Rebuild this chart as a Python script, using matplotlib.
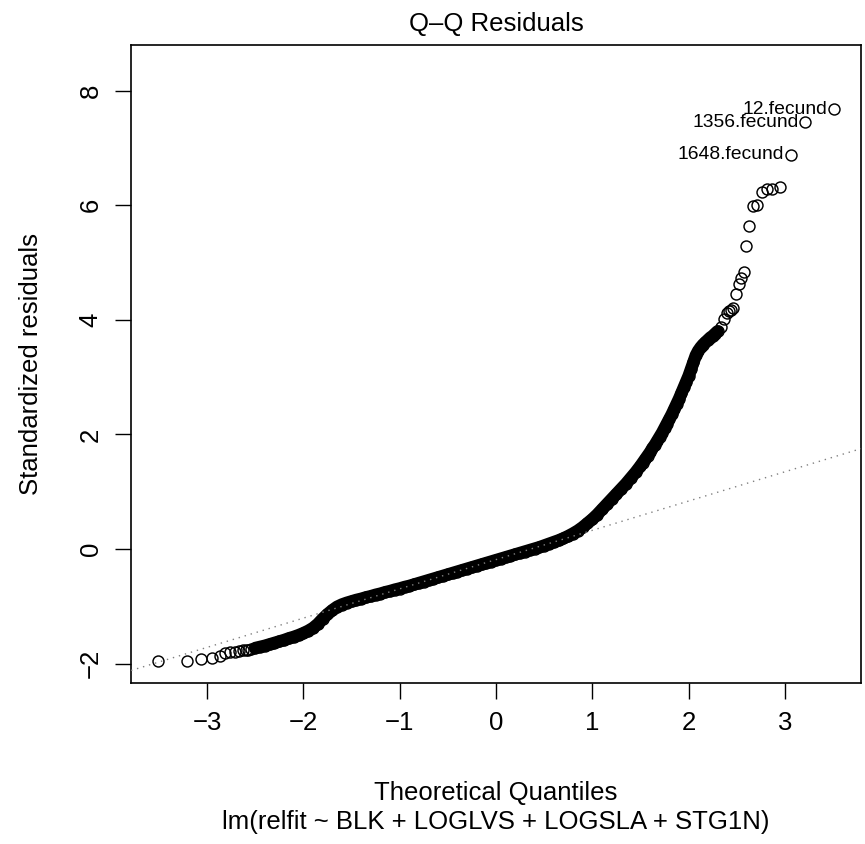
import matplotlib
matplotlib.use("Agg")
import matplotlib.pyplot as plt

plt.rcParams['font.family'] = ['Liberation Sans', 'DejaVu Sans']

# theoretical quantiles / standardized residuals
# lower tail (single circles)
lower_x = [-3.51, -3.21, -3.06, -2.95, -2.87, -2.81, -2.76, -2.71, -2.67, -2.63, -2.60, -2.57, -2.54]
lower_y = [-1.96, -1.95, -1.92, -1.90, -1.86, -1.82, -1.80, -1.79, -1.78, -1.77, -1.77, -1.76, -1.75]

# the dense band in the middle
band_x = [-2.50, -2.45, -2.40, -2.35, -2.30, -2.25, -2.20, -2.15, -2.10, -2.05,
          -2.00, -1.95, -1.90, -1.85, -1.80, -1.75, -1.70, -1.65, -1.60, -1.55,
          -1.50, -1.45, -1.40, -1.35, -1.30, -1.25, -1.20, -1.15, -1.10, -1.05,
          -1.00, -0.95, -0.90, -0.85, -0.80, -0.75, -0.70, -0.65, -0.60, -0.55,
          -0.50, -0.45, -0.40, -0.35, -0.30, -0.25, -0.20, -0.15, -0.10, -0.05,
          0.00, 0.05, 0.10, 0.15, 0.20, 0.25, 0.30, 0.35, 0.40, 0.45,
          0.50, 0.55, 0.60, 0.65, 0.70, 0.75, 0.80, 0.85, 0.90, 0.95,
          1.00, 1.05, 1.10, 1.15, 1.20, 1.25, 1.30, 1.35, 1.40, 1.45,
          1.50, 1.525, 1.55, 1.575, 1.60, 1.625, 1.65, 1.675, 1.70, 1.725,
          1.75, 1.775, 1.80, 1.825, 1.85, 1.875, 1.90, 1.925, 1.95, 1.975,
          2.00, 2.025, 2.05, 2.075, 2.10, 2.125, 2.15, 2.175, 2.20, 2.225,
          2.25, 2.275, 2.30]
band_y = [-1.73, -1.71, -1.69, -1.665, -1.64, -1.615, -1.59, -1.56, -1.535, -1.505,
          -1.47, -1.43, -1.38, -1.31, -1.22, -1.14, -1.07, -1.01, -0.97, -0.94,
          -0.915, -0.89, -0.87, -0.845, -0.825, -0.80, -0.78, -0.755, -0.735, -0.71,
          -0.69, -0.665, -0.645, -0.62, -0.595, -0.57, -0.545, -0.52, -0.495, -0.47,
          -0.445, -0.42, -0.395, -0.37, -0.345, -0.32, -0.295, -0.27, -0.245, -0.22,
          -0.195, -0.17, -0.145, -0.12, -0.095, -0.07, -0.045, -0.02, 0.005, 0.03,
          0.06, 0.09, 0.12, 0.15, 0.185, 0.225, 0.27, 0.32, 0.38, 0.45,
          0.52, 0.60, 0.69, 0.78, 0.87, 0.96, 1.05, 1.14, 1.24, 1.34,
          1.45, 1.51, 1.57, 1.63, 1.69, 1.76, 1.82, 1.89, 1.96, 2.03,
          2.11, 2.19, 2.27, 2.35, 2.44, 2.53, 2.62, 2.72, 2.82, 2.92,
          3.02, 3.14, 3.26, 3.38, 3.46, 3.52, 3.57, 3.61, 3.65, 3.69,
          3.72, 3.76, 3.80]

# upper tail (single circles)
upper_x = [2.34, 2.37, 2.40, 2.42, 2.44, 2.46, 2.49, 2.52, 2.54, 2.57, 2.60,
           2.63, 2.67, 2.71, 2.76, 2.81, 2.87, 2.95, 3.06, 3.21, 3.51]
upper_y = [3.88, 4.02, 4.12, 4.15, 4.17, 4.20, 4.46, 4.62, 4.73, 4.84, 5.29,
           5.64, 5.99, 6.01, 6.23, 6.28, 6.29, 6.32, 6.88, 7.45, 7.68]

# labelled points
id_labels = ['12.fecund', '1356.fecund', '1648.fecund']
id_x = [3.51, 3.21, 3.06]
id_y = [7.68, 7.45, 6.88]

# reference line (intercept, slope)
qq_intercept = -0.185
qq_slope = 0.511

xticks = [-3, -2, -1, 0, 1, 2, 3]
yticks = [-2, 0, 2, 4, 6, 8]

W, H = 865, 844
fig = plt.figure(figsize=(W / 100, H / 100), dpi=100)
ax = fig.add_axes([131 / W, (H - 683) / H, 730 / W, 638 / H])

fs = 18.5
pt_style = dict(linestyle='none', marker='o', mfc='none', mec='black', ms=7.9, mew=1.05)

# solid band where circles overlap completely
ax.plot(band_x, band_y, '-', color='black', lw=9.0,
        solid_capstyle='round', solid_joinstyle='round', zorder=2)
ax.plot(band_x, band_y, zorder=3, **pt_style)
ax.plot(lower_x, lower_y, zorder=3, **pt_style)
ax.plot(upper_x, upper_y, zorder=3, **pt_style)

ax.axline((0, qq_intercept), slope=qq_slope, color='gray', lw=1.0,
          linestyle=(0, (1, 3.5)), zorder=4)

for lbl, x, y in zip(id_labels, id_x, id_y):
    ax.annotate(lbl, (x, y), xytext=(-4.8, 0), textcoords='offset points',
                ha='right', va='center', fontsize=fs * 0.75)

ax.set_xlim(-3.79, 3.79)
ax.set_ylim(-2.34, 8.80)
ax.set_xticks(xticks)
ax.set_xticklabels([f'{v:d}'.replace('-', '\u2212') for v in xticks], fontsize=fs)
ax.set_yticks(yticks)
ax.set_yticklabels([f'{v:d}'.replace('-', '\u2212') for v in yticks], fontsize=fs,
                   rotation=90, va='center')
ax.tick_params(direction='out', length=11.5, width=1.0, pad=9, colors='black')
for s in ax.spines.values():
    s.set_linewidth(1.2)

fig.text(496 / W, 1 - 24 / H, 'Q\u2013Q Residuals', ha='center', va='center', fontsize=fs)
fig.text(496 / W, 1 - 793 / H, 'Theoretical Quantiles', ha='center', va='center', fontsize=fs)
fig.text(496 / W, 1 - 822 / H, 'lm(relfit ~ BLK + LOGLVS + LOGSLA + STG1N)',
         ha='center', va='center', fontsize=fs)
fig.text(31 / W, 1 - 364 / H, 'Standardized residuals', ha='center', va='center',
         rotation=90, fontsize=fs)

fig.savefig('out.png', dpi=100)
